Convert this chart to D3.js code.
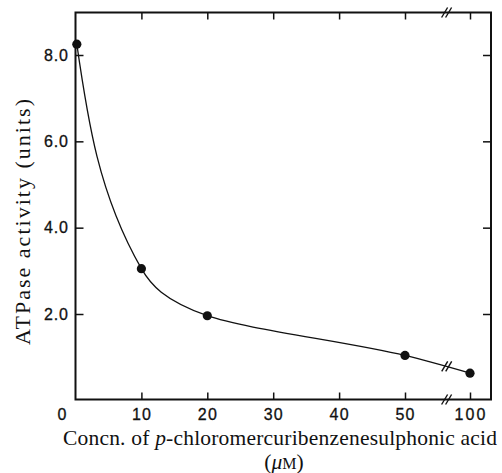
<!DOCTYPE html>
<html><head><meta charset="utf-8">
<script src="https://cdn.jsdelivr.net/npm/d3@7"></script>
<style>body{margin:0;background:#fff}svg{display:block}</style>
</head><body>
<script>
const concentration = [0.2, 10, 20, 50, 100];
const activity = [8.25, 3.05, 1.96, 1.04, 0.63];
const xTicks = [10, 20, 30, 40, 50, 100];
const yTicks = [2, 4, 6, 8];
const xBreak = 82;

(function () {
const W = 502, H = 473;
const svg = d3.select("body").append("svg").attr("width", W).attr("height", H);
const pL = 75.5, pR = 491, pT = 12.5, pB = 399.5;
const x = d3.scaleLinear().domain([0, 50, 100]).range([pL, 405, 470]);
const y = d3.scaleLinear().domain([2, 8]).range([314, 55]);

svg.append("rect").attr("x", pL).attr("y", pT).attr("width", pR - pL).attr("height", pB - pT)
  .attr("fill", "none").attr("stroke", "#111").attr("stroke-width", 2);

const gB = svg.append("g").attr("transform", `translate(0,${pB})`)
  .call(d3.axisTop(x).tickValues(xTicks).tickSize(7).tickFormat(""));
const gT = svg.append("g").attr("transform", `translate(0,${pT})`)
  .call(d3.axisBottom(x).tickValues(xTicks).tickSize(7).tickFormat(""));
const gL = svg.append("g").attr("transform", `translate(${pL},0)`)
  .call(d3.axisRight(y).tickValues(yTicks).tickSize(8).tickFormat(""));
const gR = svg.append("g").attr("transform", `translate(${pR},0)`)
  .call(d3.axisLeft(y).tickValues(yTicks).tickSize(8).tickFormat(""));
[gB, gT, gL, gR].forEach(g => {
  g.select(".domain").remove();
  g.selectAll(".tick line").attr("stroke", "#111").attr("stroke-width", 1.5);
});

const lab = svg.append("g").attr("font-family", "Liberation Sans, Arial, sans-serif")
  .attr("font-size", 16).attr("fill", "#111").attr("stroke", "#111").attr("stroke-width", 0.3);
lab.selectAll(".xl").data(xTicks).join("text")
  .attr("x", d => x(d)).attr("y", 420).attr("text-anchor", "middle")
  .attr("textLength", d => String(d).length === 3 ? 31 : 19).attr("lengthAdjust", "spacing")
  .text(d => d);
lab.append("text").attr("x", 62).attr("y", 420).attr("text-anchor", "middle").text("0");
lab.selectAll(".yl").data(yTicks).join("text")
  .attr("x", 68).attr("y", d => y(d) + 5.5).attr("text-anchor", "end")
  .attr("textLength", 24).attr("lengthAdjust", "spacing")
  .text(d => d.toFixed(1));

const pts = concentration.map((c, i) => [x(c), y(activity[i])]);
const curve = svg.append("path").datum(pts)
  .attr("d", d3.line().curve(d3.curveMonotoneY))
  .attr("fill", "none").attr("stroke", "#111").attr("stroke-width", 1.3);

svg.selectAll(".pt").data(pts).join("circle")
  .attr("cx", d => d[0]).attr("cy", d => d[1]).attr("r", 4.6).attr("fill", "#111");

function brk(cx, cy) {
  [-2, 2].forEach(o => {
    svg.append("line").attr("x1", cx + o - 3).attr("y1", cy + 5).attr("x2", cx + o + 3).attr("y2", cy - 5)
      .attr("stroke", "#111").attr("stroke-width", 1.4);
  });
}
const bx = x(xBreak);
brk(bx, pB);
brk(bx, pT);
const p = curve.node();
const L = p.getTotalLength();
let best = null, bd = 1e9;
for (let s = 0; s <= L; s += 0.5) {
  const q = p.getPointAtLength(s);
  const d = Math.abs(q.x - bx);
  if (d < bd) { bd = d; best = q; }
}
if (best) brk(best.x, best.y);

const serif = "Liberation Serif, Times New Roman, serif";
svg.append("text").attr("x", 280).attr("y", 445).attr("text-anchor", "middle")
  .attr("font-family", serif).attr("font-size", 21.5).attr("fill", "#111")
  .attr("textLength", 434).attr("lengthAdjust", "spacing")
  .html('Concn. of <tspan font-style="italic">p</tspan>-chloromercuribenzenesulphonic acid');
svg.append("text").attr("x", 284).attr("y", 469).attr("text-anchor", "middle")
  .attr("font-family", serif).attr("font-size", 21.5).attr("fill", "#111")
  .html('(<tspan font-style="italic">μ</tspan><tspan font-size="16">M</tspan>)');
svg.append("text").attr("transform", "translate(30,222) rotate(-90)").attr("text-anchor", "middle")
  .attr("font-family", serif).attr("font-size", 22).attr("fill", "#111")
  .attr("textLength", 246).attr("lengthAdjust", "spacing")
  .text('ATPase activity (units)');
})();
</script>
</body></html>
